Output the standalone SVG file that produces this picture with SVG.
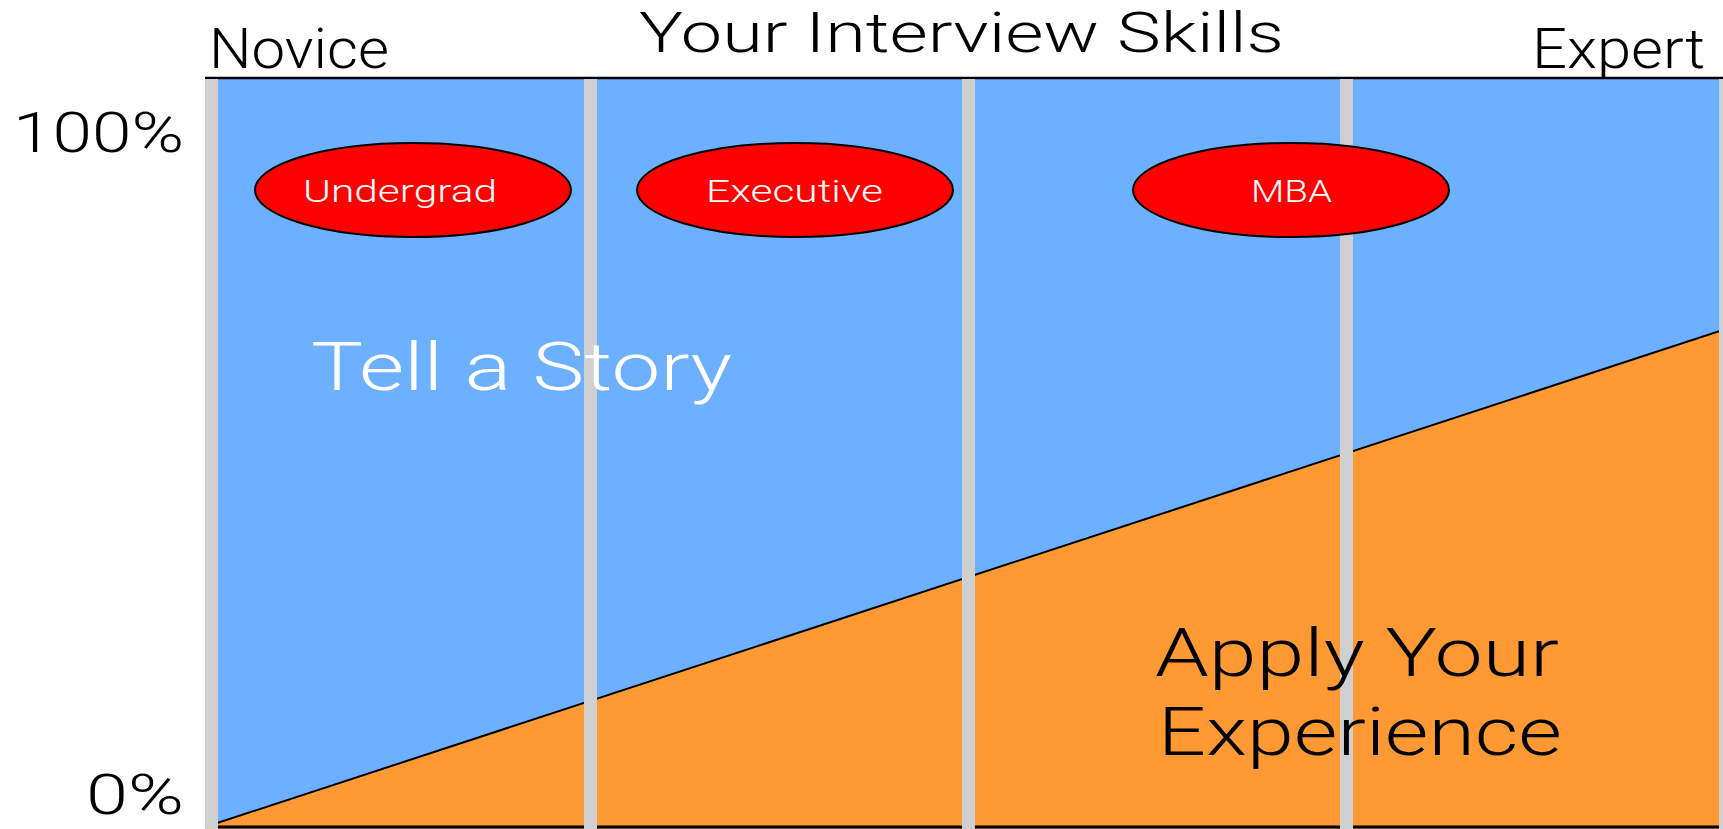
<svg xmlns="http://www.w3.org/2000/svg" width="1723" height="829" viewBox="0 0 1723 829">
  <style>
    .lbl { font-family: Roboto, "Liberation Sans", Arial, sans-serif; font-weight: 300; fill: #000; }
    .big { font-size: 56px; }
    .area { font-size: 67px; }
    .pill { fill: #FF0000; stroke: #000; stroke-width: 2; }
    .pilltxt { font-family: Roboto, "Liberation Sans", Arial, sans-serif; font-weight: 300; font-size: 32px; fill: #FFF; }
    .bar { fill: #CFCFCF; }
  </style>

  <rect x="0" y="0" width="1723" height="829" fill="#FFFFFF"/>

  <!-- chart body: story area (blue) and experience wedge (orange) -->
  <g id="chart">
    <rect x="205" y="78" width="1518" height="751" fill="#6DB0FF"/>
    <polygon points="205,827 1723,330 1723,829 205,829" fill="#FF9933"/>
    <line x1="205" y1="827" x2="1723" y2="330" stroke="#000" stroke-width="2"/>
    <line x1="205" y1="78" x2="1723" y2="78" stroke="#000" stroke-width="2.5"/>
    <line x1="205" y1="827" x2="1723" y2="827" stroke="#000" stroke-width="3"/>
  </g>

  <!-- stage dividers -->
  <g id="dividers">
    <rect class="bar" x="205" y="79" width="13" height="750"/>
    <rect class="bar" x="584" y="79" width="13" height="750"/>
    <rect class="bar" x="962" y="79" width="13" height="750"/>
    <rect class="bar" x="1340" y="79" width="13" height="750"/>
    <rect class="bar" x="1719" y="79" width="13" height="750"/>
  </g>

  <!-- axis labels -->
  <g id="axis-labels">
    <text class="lbl big" x="639" y="52" textLength="645" lengthAdjust="spacingAndGlyphs">Your Interview Skills</text>
    <text class="lbl" font-size="55" x="209" y="68" textLength="180" lengthAdjust="spacingAndGlyphs">Novice</text>
    <text class="lbl" font-size="55" x="1532" y="68" textLength="173" lengthAdjust="spacingAndGlyphs">Expert</text>
    <text class="lbl" font-size="55" x="13" y="152" textLength="171" lengthAdjust="spacingAndGlyphs">100%</text>
    <text class="lbl" font-size="55" x="86" y="814" textLength="98" lengthAdjust="spacingAndGlyphs">0%</text>
  </g>

  <!-- audience nodes -->
  <g id="node-undergrad">
    <ellipse class="pill" cx="413" cy="190" rx="158" ry="47"/>
    <text class="pilltxt" x="303" y="202" textLength="194" lengthAdjust="spacingAndGlyphs">Undergrad</text>
  </g>
  <g id="node-executive">
    <ellipse class="pill" cx="795" cy="190" rx="158" ry="47"/>
    <text class="pilltxt" x="706" y="202" textLength="177" lengthAdjust="spacingAndGlyphs">Executive</text>
  </g>
  <g id="node-mba">
    <ellipse class="pill" cx="1291" cy="190" rx="158" ry="47"/>
    <text class="pilltxt" x="1251" y="202" textLength="81" lengthAdjust="spacingAndGlyphs">MBA</text>
  </g>

  <!-- region labels -->
  <g id="label-story">
    <text class="lbl area" x="311" y="390" style="fill:#FFFFFF" textLength="421" lengthAdjust="spacingAndGlyphs">Tell a Story</text>
  </g>
  <g id="label-experience">
    <text class="lbl area" x="1155" y="676" textLength="404" lengthAdjust="spacingAndGlyphs">Apply Your</text>
    <text class="lbl area" x="1158" y="755" textLength="404" lengthAdjust="spacingAndGlyphs">Experience</text>
  </g>
</svg>
